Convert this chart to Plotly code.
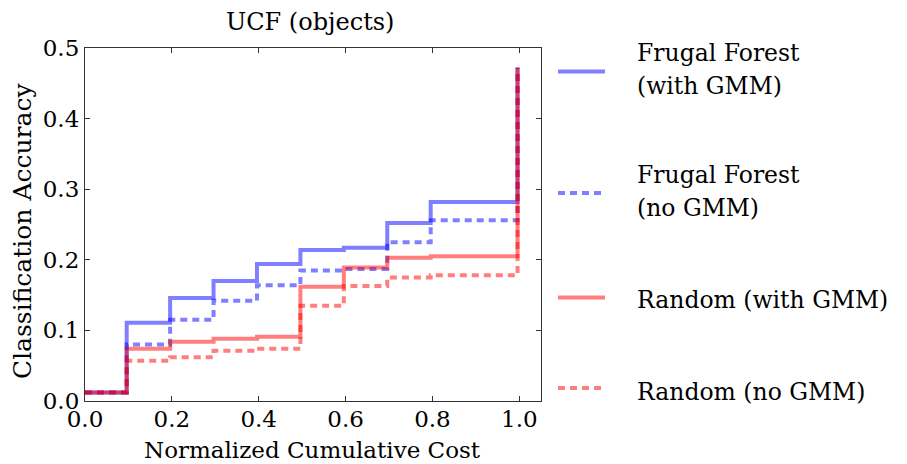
import plotly.graph_objects as go

# ---- data ----
step_x = [0.0, 0.096, 0.196, 0.296, 0.396, 0.496, 0.596, 0.696, 0.796, 0.996]
ff_gmm = [0.012, 0.111, 0.146, 0.170, 0.194, 0.214, 0.217, 0.252, 0.282, 0.472]
ff_nogmm = [0.012, 0.080, 0.115, 0.142, 0.164, 0.185, 0.187, 0.225, 0.256, 0.472]
rnd_gmm = [0.012, 0.074, 0.084, 0.088, 0.091, 0.162, 0.189, 0.203, 0.205, 0.472]
rnd_nogmm = [0.012, 0.057, 0.062, 0.071, 0.074, 0.135, 0.163, 0.175, 0.178, 0.472]

series_names = ["Frugal Forest (with GMM)", "Frugal Forest (no GMM)",
                "Random (with GMM)", "Random (no GMM)"]
legend_lines = [["Frugal Forest", "(with GMM)"], ["Frugal Forest", "(no GMM)"],
                ["Random (with GMM)"], ["Random (no GMM)"]]
x_ticks = [0.0, 0.2, 0.4, 0.6, 0.8, 1.0]
y_ticks = [0.0, 0.1, 0.2, 0.3, 0.4, 0.5]

BLUE = "rgba(0,0,255,0.5)"
RED = "rgba(255,0,0,0.5)"
FONT = "DejaVu Serif"
DASH = "7px,5px"

styles = [(BLUE, "solid"), (BLUE, DASH), (RED, "solid"), (RED, DASH)]
values = [ff_gmm, ff_nogmm, rnd_gmm, rnd_nogmm]

fig = go.Figure()
for name, ys, (col, dash) in zip(series_names, values, styles):
    fig.add_trace(go.Scatter(x=step_x, y=ys, mode="lines", name=name,
                             line=dict(color=col, width=4, dash=dash, shape="hv"),
                             showlegend=False))

# plot area in pixels: x 85..541, y 48..401
L, R, T, B = 85, 541, 48, 401
W, H = 907, 464
def px(xp):
    return (xp - L) / (R - L)
def py(yp):
    return (B - yp) / (B - T)

# manual legend (matplotlib-like)
leg_sample_y = [71.5, 193, 297.5, 388]
leg_text_y = [[53, 86], [175, 208], [300], [392]]
for (col, dash), sy, lines, tys in zip(styles, leg_sample_y, legend_lines, leg_text_y):
    fig.add_shape(type="line", xref="paper", yref="paper",
                  x0=px(558), x1=px(605), y0=py(sy), y1=py(sy),
                  line=dict(color=col, width=4, dash=dash))
    for txt, ty in zip(lines, tys):
        fig.add_annotation(text=txt, xref="paper", yref="paper", x=px(635), y=py(ty),
                           xanchor="left", yanchor="middle", showarrow=False,
                           font=dict(family=FONT, size=23.5, color="black"))

# title and axis titles
fig.add_annotation(text="UCF (objects)", xref="paper", yref="paper", x=px(310), y=py(22),
                   xanchor="center", yanchor="middle", showarrow=False,
                   font=dict(family=FONT, size=24, color="black"))
fig.add_annotation(text="Normalized Cumulative Cost", xref="paper", yref="paper",
                   x=px(312), y=py(450), xanchor="center", yanchor="middle", showarrow=False,
                   font=dict(family=FONT, size=23, color="black"))
fig.add_annotation(text="Classification Accuracy", xref="paper", yref="paper",
                   x=px(23), y=py(231), xanchor="center", yanchor="middle", showarrow=False,
                   textangle=-90, font=dict(family=FONT, size=25, color="black"))

axis_common = dict(showline=True, linecolor="#333", linewidth=1.2, mirror="allticks",
                   ticks="inside", ticklen=5, tickcolor="#333", showgrid=False,
                   zeroline=False, tickfont=dict(family=FONT, size=23, color="black"))
fig.update_xaxes(range=[0, 1.05], tickvals=x_ticks, ticktext=[f"{v:.1f}" for v in x_ticks],
                 ticklabelstandoff=-3, **axis_common)
fig.update_yaxes(range=[0, 0.5], tickvals=y_ticks, ticktext=[f"{v:.1f}" for v in y_ticks],
                 **axis_common)
fig.update_layout(width=W, height=H, margin=dict(l=L, r=W - R, t=T, b=H - B),
                  plot_bgcolor="white", paper_bgcolor="white", showlegend=False,
                  font=dict(family=FONT))
fig.write_html("out.html")
